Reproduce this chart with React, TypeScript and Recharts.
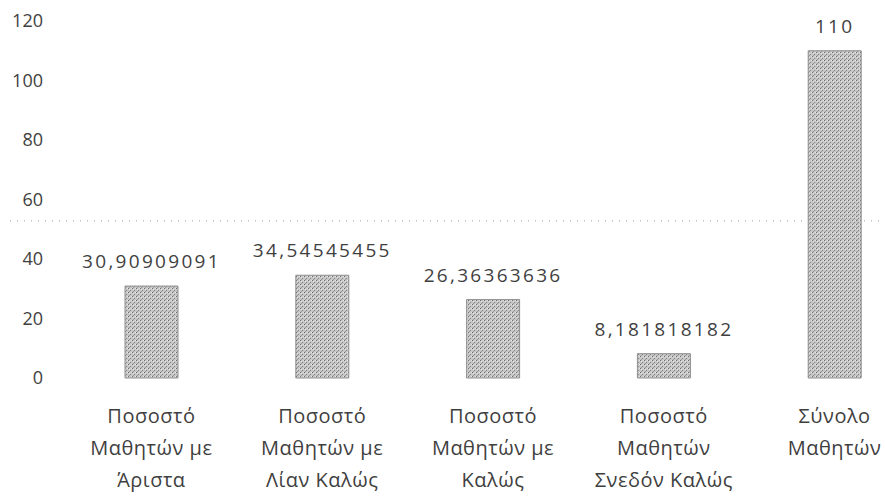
import { BarChart, Bar, XAxis, YAxis, LabelList, ReferenceLine } from "recharts"

const categories = [
  "Ποσοστό\nΜαθητών με\nΆριστα",
  "Ποσοστό\nΜαθητών με\nΛίαν Καλώς",
  "Ποσοστό\nΜαθητών με\nΚαλώς",
  "Ποσοστό\nΜαθητών\nΣνεδόν Καλώς",
  "Σύνολο\nΜαθητών",
]
const values = [30.90909091, 34.54545455, 26.36363636, 8.181818182, 110]
const yTicks = [0, 20, 40, 60, 80, 100, 120]
const dottedLineValue = 52.8

const chartData = categories.map((name, i) => ({ name, value: values[i] }))

const textColor = "#3f3f3f"
const font = "'Open Sans', 'Noto Sans', sans-serif"

function CategoryTick({ x, y, payload }: any) {
  const lines = String(payload.value).split("\n")
  return (
    <text
      x={x}
      y={y}
      textAnchor="middle"
      fill={textColor}
      fontSize={20}
      fontFamily={font}
      style={{ letterSpacing: 0.5 }}
    >
      {lines.map((line, i) => (
        <tspan key={i} x={x} dy={i === 0 ? 45 : 32}>
          {line}
        </tspan>
      ))}
    </text>
  )
}

function DottedLine(props: any) {
  return (
    <line
      x1={10}
      x2={920}
      y1={props.y1}
      y2={props.y1}
      stroke="#9a9a9a"
      strokeWidth={1}
      strokeDasharray="1 6"
    />
  )
}

export default function App() {
  return (
    <div style={{ position: "absolute", left: 0, top: 0, width: 885, height: 497, overflow: "hidden", background: "#fff" }}>
      <BarChart
        width={920}
        height={497}
        data={chartData}
        margin={{ top: 21, right: 0, bottom: 0, left: 0 }}
        barSize={53}
      >
        <defs>
          <pattern id="grain" width="4" height="4" patternUnits="userSpaceOnUse">
            <rect width="4" height="4" fill="#c6c6c6" />
            <rect x="0" y="0" width="1" height="1" fill="#6e6e6e" />
            <rect x="2" y="2" width="1" height="1" fill="#858585" />
            <rect x="3" y="0" width="1" height="1" fill="#e4e4e4" />
            <rect x="1" y="3" width="1" height="1" fill="#999999" />
            <rect x="1" y="1" width="1" height="1" fill="#e0e0e0" />
          </pattern>
        </defs>
        <XAxis
          dataKey="name"
          axisLine={false}
          tickLine={false}
          tickSize={0}
          tickMargin={0}
          height={119}
          interval={0}
          tick={<CategoryTick />}
        />
        <YAxis
          domain={[0, 120]}
          ticks={yTicks}
          axisLine={false}
          tickLine={false}
          tickSize={0}
          tickMargin={23}
          width={66}
          tick={{ fill: textColor, fontSize: 18, fontFamily: font }}
        />
        <ReferenceLine y={dottedLineValue} shape={<DottedLine />} ifOverflow="visible" />
        <Bar dataKey="value" fill="url(#grain)" stroke="#8f8f8f" strokeWidth={1} isAnimationActive={false}>
          <LabelList
            dataKey="value"
            position="top"
            offset={18}
            fill={textColor}
            fontSize={19}
            fontFamily={font}
            style={{ letterSpacing: 2.3 }}
            formatter={(v: any) => String(v).replace(".", ",")}
          />
        </Bar>
      </BarChart>
    </div>
  )
}
